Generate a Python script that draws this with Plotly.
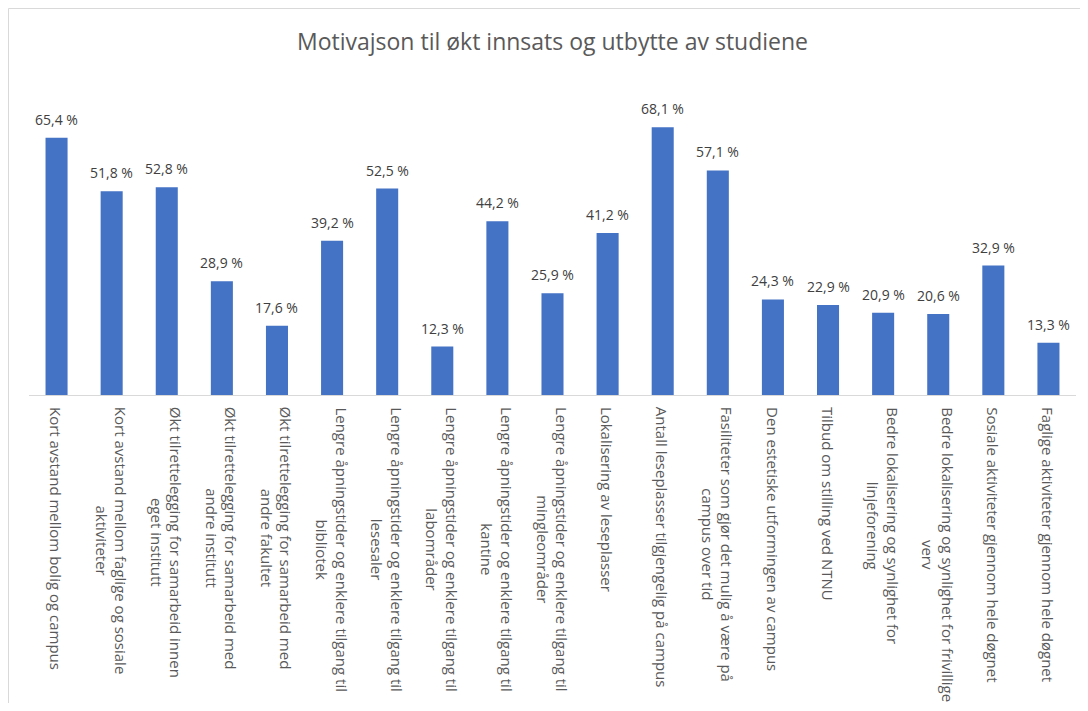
import plotly.graph_objects as go

# chart data
categories = [
    "Kort avstand mellom bolig og campus",
    "Kort avstand mellom faglige og sosiale<br>aktiviteter",
    "Økt tilrettelegging for samarbeid innen<br>eget institutt",
    "Økt tilrettelegging for samarbeid med<br>andre institutt",
    "Økt tilrettelegging for samarbeid med<br>andre fakultet",
    "Lengre åpningstider og enklere tilgang til<br>bibliotek",
    "Lengre åpningstider og enklere tilgang til<br>lesesaler",
    "Lengre åpningstider og enklere tilgang til<br>labområder",
    "Lengre åpningstider og enklere tilgang til<br>kantine",
    "Lengre åpningstider og enklere tilgang til<br>mingleområder",
    "Lokalisering av leseplasser",
    "Antall leseplasser tilgjengelig på campus",
    "Fasiliteter som gjør det mulig å være på<br>campus over tid",
    "Den estetiske utformingen av campus",
    "Tilbud om stilling ved NTNU",
    "Bedre lokalisering og synlighet for<br>linjeforening",
    "Bedre lokalisering og synlighet for frivillige<br>verv",
    "Sosiale aktiviteter gjennom hele døgnet",
    "Faglige aktiviteter gjennom hele døgnet",
]
values = [65.4, 51.8, 52.8, 28.9, 17.6, 39.2, 52.5, 12.3, 44.2, 25.9,
          41.2, 68.1, 57.1, 24.3, 22.9, 20.9, 20.6, 32.9, 13.3]

# figure size (page has an 8px body margin)
W, H = 1072, 695
L, R, T, B = 21, 4, 92, 308

value_text = [f"{v:.1f} %".replace(".", ",") for v in values]
xs = list(range(len(categories)))

fig = go.Figure(go.Bar(
    x=xs,
    y=values,
    marker=dict(color="#4472C4", line=dict(width=0)),
    hoverinfo="y",
))

# value labels above bars
for i, v in enumerate(values):
    fig.add_annotation(
        x=i, y=v, xref="x", yref="y",
        text=value_text[i], showarrow=False,
        xanchor="center", yanchor="bottom", yshift=7,
        font=dict(family="Open Sans", size=14, color="#404040"),
    )

# centered, rotated category labels
for i, c in enumerate(categories):
    fig.add_annotation(
        x=i, y=0, xref="x", yref="paper",
        text=c, showarrow=False, textangle=90,
        xanchor="center", yanchor="top", align="center",
        yshift=-10,
        font=dict(family="Open Sans", size=15, color="#595959"),
    )

# chart area border (top and left edges visible)
pw, ph = W - L - R, H - T - B
x_left = (0.5 - L) / pw
y_top = 1 + (T - 0.5) / ph
fig.add_shape(type="line", xref="paper", yref="paper",
              x0=x_left, x1=(W - L) / pw, y0=y_top, y1=y_top,
              line=dict(color="#D9D9D9", width=1))
fig.add_shape(type="line", xref="paper", yref="paper",
              x0=x_left, x1=x_left, y0=-B / ph, y1=y_top,
              line=dict(color="#D9D9D9", width=1))

fig.update_layout(
    width=W, height=H,
    margin=dict(l=L, r=R, t=T, b=B),
    paper_bgcolor="white", plot_bgcolor="white",
    title=dict(
        text="Motivajson til økt innsats og utbytte av studiene",
        x=0.5, xanchor="center", xref="paper",
        y=1 - 34 / H, yanchor="middle", yref="container",
        font=dict(family="Open Sans", size=23, color="#595959"),
    ),
    bargap=0.6,
    showlegend=False,
    xaxis=dict(
        showticklabels=False, showgrid=False, zeroline=False,
        showline=True, linecolor="#D9D9D9", linewidth=1,
        range=[-0.5, len(categories) - 0.5],
    ),
    yaxis=dict(
        range=[0, 75], visible=False, showgrid=False, zeroline=False,
    ),
)

fig.write_html("out.html")
